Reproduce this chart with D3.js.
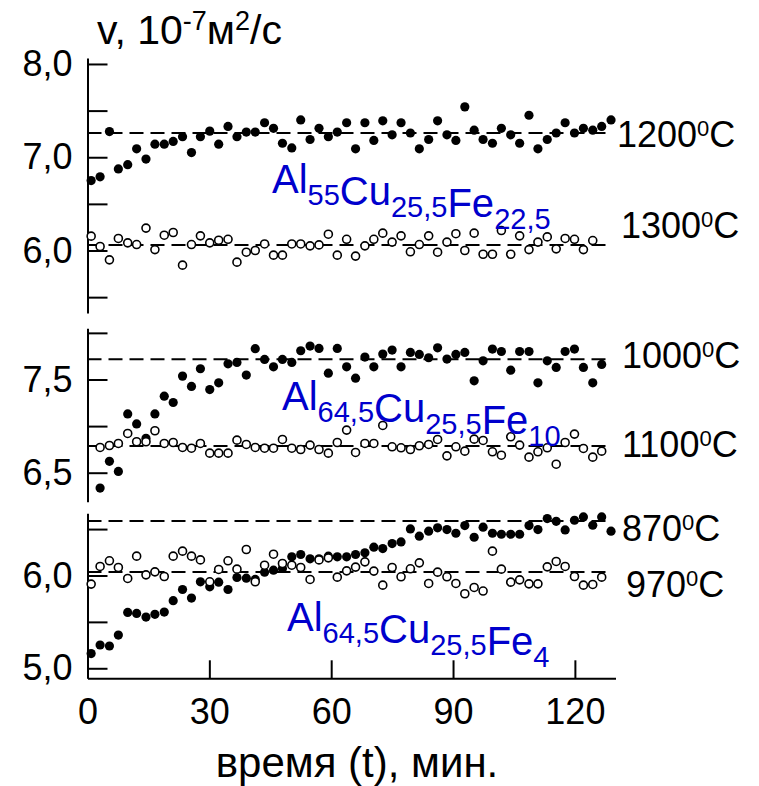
<!DOCTYPE html>
<html lang="ru">
<head>
<meta charset="UTF-8">
<title>Вязкость расплавов Al-Cu-Fe</title>
<script src="https://d3js.org/d3.v7.min.js"></script>
<style>
  body { margin: 0; background: #fff; }
  svg text { font-family: "Liberation Sans", Arial, sans-serif; fill: #000; }
  .axis path, .axis line { stroke: #000; stroke-width: 2; fill: none; }
  .axis text { font-size: 36px; }
  .formula { fill: #0000cc !important; }
</style>
</head>
<body>
<div id="chart"></div>
<script>
// time of each measurement, min
const times = [0.9, 3.1, 5.4, 7.6, 9.9, 12.1, 14.4, 16.6, 18.9, 21.1, 23.4, 25.6, 27.8, 30.1, 32.3,
  34.6, 36.8, 39.1, 41.3, 43.6, 45.8, 48.0, 50.3, 52.5, 54.8, 57.0, 59.3, 61.5, 63.8, 66.0, 68.3,
  70.5, 72.7, 75.0, 77.2, 79.5, 81.7, 84.0, 86.2, 88.5, 90.7, 92.9, 95.2, 97.4, 99.7, 101.9, 104.2,
  106.4, 108.7, 110.9, 113.2, 115.4, 117.6, 119.9, 122.1, 124.4, 126.6, 128.9];

// Al55Cu25,5Fe22,5
const v1200 = [6.75, 6.79, 7.275, 6.875, 6.92, 7.09, 6.98, 7.14, 7.14, 7.17, 7.22, 7.05, 7.22, 7.28, 7.14,
  7.33, 7.22, 7.27, 7.27, 7.37, 7.31, 7.15, 7.10, 7.40, 7.19, 7.31, 7.22, 7.27, 7.37, 7.09, 7.37,
  7.18, 7.39, 7.24, 7.37, 7.26, 7.09, 7.19, 7.39, 7.24, 7.18, 7.54, 7.29, 7.19, 7.15, 7.31, 7.24,
  7.15, 7.45, 7.09, 7.19, 7.26, 7.37, 7.26, 7.31, 7.29, 7.33, 7.40];
const v1300 = [6.154, 6.043, 5.90, 6.129, 6.082, 6.064, 6.24, 6.01, 6.164, 6.193, 5.843, 6.064, 6.157,
  6.082, 6.11, 6.12, 5.875, 5.982, 6.0, 6.07, 5.95, 5.95, 6.07, 6.07, 6.05, 6.06, 6.175, 5.95, 6.12,
  5.94, 6.05, 6.12, 6.186, 6.09, 6.157, 5.986, 6.064, 6.157, 5.982, 6.09, 6.18, 6.0, 6.186, 5.96,
  5.96, 6.214, 5.96, 6.157, 6.01, 6.09, 6.146, 6.018, 6.129, 6.12, 6.01, 6.107, null, null];

// Al64,5Cu25,5Fe10
const v1000 = [null, 6.335, 6.622, 6.514, 7.131, 7.023, 6.869, 7.131, 7.321, 7.253, 7.536, 7.425, 7.615,
  7.392, 7.464, 7.668, 7.683, 7.547, 7.83, 7.715, 7.636, 7.715, 7.683, 7.808, 7.858, 7.833, 7.568,
  7.833, 7.636, 7.514, 7.74, 7.636, 7.772, 7.815, 7.636, 7.79, 7.769, 7.733, 7.84, 7.719, 7.769,
  7.79, 7.486, 7.70, 7.826, 7.80, 7.60, 7.80, 7.80, 7.464, 7.70, 7.629, 7.80, 7.826, 7.629, 7.464,
  7.661, null];
const v1100 = [null, 6.771, 6.792, 6.814, 6.921, 6.832, 6.832, 6.95, 6.814, 6.824, 6.771, 6.763, 6.814,
  6.71, 6.71, 6.71, 6.849, 6.803, 6.771, 6.763, 6.763, 6.857, 6.763, 6.749, 6.796, 6.749, 6.71,
  6.824, 6.957, 6.717, 6.814, 6.814, 7.007, 6.778, 6.767, 6.749, 6.789, 6.803, 6.857, 6.681, 6.778,
  6.731, 6.86, 6.846, 6.724, 6.688, 6.885, 6.796, 6.667, 6.724, 6.767, 6.591, 6.824, 6.914, 6.76,
  6.667, 6.731, null];

// Al64,5Cu25,5Fe4
const v870 = [5.158, 5.251, 5.24, 5.358, 5.602, 5.591, 5.552, 5.581, 5.606, 5.728, 5.849, 5.756, 5.932,
  5.878, 5.928, 5.849, 5.978, 5.971, 5.957, 6.036, 6.057, 6.075, 6.201, 6.226, 6.179, 6.179, 6.208,
  6.201, 6.201, 6.226, 6.244, 6.305, 6.29, 6.344, 6.362, 6.502, 6.423, 6.477, 6.513, 6.495, 6.455,
  6.538, 6.412, 6.52, 6.455, 6.444, 6.444, 6.444, 6.538, 6.495, 6.613, 6.584, 6.491, 6.595, 6.631,
  6.541, 6.631, 6.477];
const v970 = [5.907, 6.097, 6.158, 6.086, 5.968, 6.208, 6.007, 6.039, 5.989, 6.208, 6.262, 6.208, 6.168,
  5.932, 6.065, 6.158, 6.068, 6.28, 5.932, 6.111, 6.229, 6.129, 6.111, 6.086, 5.957, 6.168, 6.19,
  5.982, 6.05, 6.09, 6.147, 6.047, 5.896, 6.086, 5.986, 6.072, 6.136, 5.914, 6.036, 5.986, 5.914,
  5.803, 5.871, 5.832, 6.262, 6.068, 5.928, 5.953, 5.91, 5.91, 6.093, 6.151, 6.097, 5.989, 5.896,
  5.903, 5.982, null];

// mean levels (dashed lines)
const levels = [7.261, 6.059, 7.717, 6.786, 6.587, 6.038];
const tempLabels = ["1200", "1300", "1000", "1100", "870", "970"];
const xTicks = [0, 30, 60, 90, 120];

const W = 759, H = 786;
const svg = d3.select("#chart").append("svg")
  .attr("width", W).attr("height", H);
svg.append("rect").attr("width", W).attr("height", H).attr("fill", "#fff");

const x = d3.scaleLinear().domain([0, 130]).range([87.5, 615.5]);

// three stacked panels sharing the time axis
const panels = [
  { domain: [5.33, 8.064], range: [313, 58], ticks: [5.5, 6, 6.5, 7, 7.5, 8], labeled: [6, 7, 8],
    full: v1200, open: v1300, lv: [0, 1], tl: [[617, 147], [621, 238]],
    formula: [["Al", "55"], ["Cu", "25,5"], ["Fe", "22,5"]], fpos: [272, 193] },
  { domain: [6.189, 8.049], range: [501.7, 328.3], ticks: [6.5, 7, 7.5, 8], labeled: [6.5, 7.5],
    full: v1000, open: v1100, lv: [2, 3], tl: [[622, 368], [622, 457]],
    formula: [["Al", "64,5"], ["Cu", "25,5"], ["Fe", "10"]], fpos: [282, 410] },
  { domain: [4.892, 6.67], range: [678.3, 513.3], ticks: [5, 5.5, 6, 6.5], labeled: [5, 6],
    full: v870, open: v970, lv: [4, 5], tl: [[622, 541], [626, 597]],
    formula: [["Al", "64,5"], ["Cu", "25,5"], ["Fe", "4"]], fpos: [287, 631] }
];

const comma = d => d3.format(".1f")(d).replace(".", ",");

panels.forEach(p => {
  const y = d3.scaleLinear().domain(p.domain).range(p.range);

  svg.append("g")
    .attr("class", "axis")
    .attr("transform", `translate(${x(0)},0)`)
    .call(d3.axisLeft(y).tickValues(p.ticks)
      .tickSizeInner(-20).tickSizeOuter(0).tickPadding(15)
      .tickFormat(d => p.labeled.includes(d) ? comma(d) : ""));

  // dashed mean lines
  p.lv.forEach(i => {
    svg.append("line")
      .attr("x1", x(0)).attr("x2", x(128))
      .attr("y1", y(levels[i])).attr("y2", y(levels[i]))
      .attr("stroke", "#000").attr("stroke-width", 2)
      .attr("stroke-dasharray", "14,7");
  });

  const fullPts = times.map((t, i) => [t, p.full[i]]).filter(d => d[1] != null);
  const openPts = times.map((t, i) => [t, p.open[i]]).filter(d => d[1] != null);

  svg.append("g").selectAll("circle").data(fullPts).join("circle")
    .attr("cx", d => x(d[0])).attr("cy", d => y(d[1]))
    .attr("r", 4.6).attr("fill", "#000");

  svg.append("g").selectAll("circle").data(openPts).join("circle")
    .attr("cx", d => x(d[0])).attr("cy", d => y(d[1]))
    .attr("r", 4).attr("fill", "#fff").attr("stroke", "#000").attr("stroke-width", 1.6);

  // temperature labels
  p.lv.forEach((li, k) => {
    const t = svg.append("text")
      .attr("x", p.tl[k][0]).attr("y", p.tl[k][1])
      .style("font-size", "36px");
    t.append("tspan").text(tempLabels[li]);
    t.append("tspan").attr("dy", -11).style("font-size", "22px").text("0");
    t.append("tspan").attr("dy", 11).text("C");
  });

  // alloy composition
  const f = svg.append("text").attr("class", "formula")
    .attr("x", p.fpos[0]).attr("y", p.fpos[1])
    .style("font-size", "40px");
  p.formula.forEach(([el, n]) => {
    f.append("tspan").attr("dy", 0).text(el);
    f.append("tspan").attr("dy", 12).style("font-size", "29px").text(n);
    f.append("tspan").attr("dy", -12).text("");
  });
});

// time axis
svg.append("g")
  .attr("class", "axis")
  .attr("transform", `translate(0,678.3)`)
  .call(d3.axisBottom(x).tickValues(xTicks)
    .tickSizeInner(-18).tickSizeOuter(0).tickPadding(20));

svg.append("text")
  .attr("x", 357).attr("y", 777)
  .attr("text-anchor", "middle")
  .style("font-size", "42px")
  .text("время (t), мин.");

// y title
const yt = svg.append("text").attr("x", 97).attr("y", 44).style("font-size", "41px");
yt.append("tspan").text("v, 10");
yt.append("tspan").attr("dy", -14).style("font-size", "27px").text("-7");
yt.append("tspan").attr("dy", 14).text("м");
yt.append("tspan").attr("dy", -14).style("font-size", "27px").text("2");
yt.append("tspan").attr("dy", 14).text("/с");
</script>
</body>
</html>
